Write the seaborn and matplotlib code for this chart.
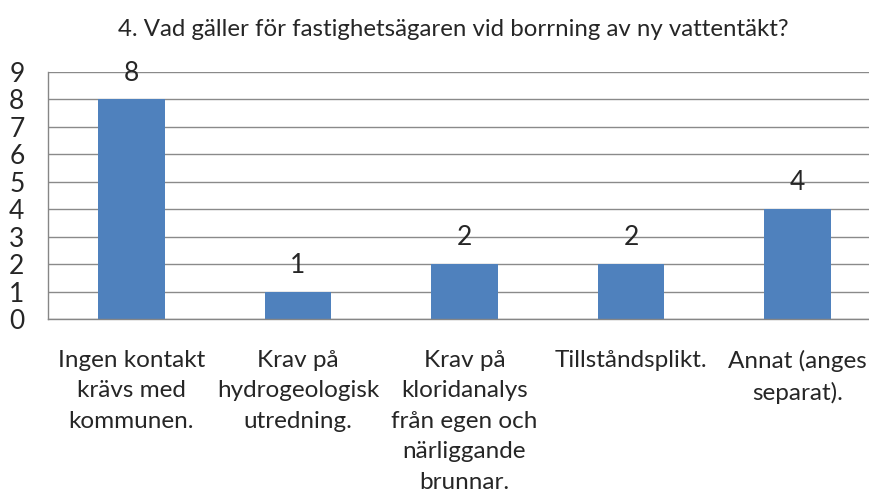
import matplotlib
matplotlib.use("Agg")
import matplotlib.pyplot as plt
import seaborn as sns
import pandas as pd

title = "4. Vad gäller för fastighetsägaren vid borrning av ny vattentäkt?"
categories = [
    "Ingen kontakt\nkrävs med\nkommunen.",
    "Krav på\nhydrogeologisk\nutredning.",
    "Krav på\nkloridanalys\nfrån egen och\nnärliggande\nbrunnar.",
    "Tillståndsplikt.",
    "Annat (anges\nseparat).",
]
values = [8, 1, 2, 2, 4]
yticks = list(range(0, 10))

sns.set_theme(style="white")
plt.rcParams['font.family'] = ['Lato', 'DejaVu Sans']

df = pd.DataFrame({"cat": categories, "val": values})

W, H = 870, 498
fig = plt.figure(figsize=(W / 100, H / 100), dpi=100)
left, right, top, bottom = 48, 881, 72, 319
ax = fig.add_axes([left / W, 1 - bottom / H, (right - left) / W, (bottom - top) / H])

bar_color = "#4F81BD"
sns.barplot(data=df, x="cat", y="val", color=bar_color, width=0.4, ax=ax,
            saturation=1, edgecolor="none")

ax.set_xlim(-0.5, len(categories) - 0.5)
ax.set_ylim(0, 9)
ax.set_yticks(yticks)
ax.set_yticklabels([str(t) for t in yticks], fontsize=19)
ax.set_xticks([i - 0.5 for i in range(len(categories) + 1)], minor=False)
ax.set_xticklabels([])
ax.set_xticks(range(len(categories)), minor=True)
ax.set_xticklabels(categories, minor=True, fontsize=17.5, linespacing=1.56)
ax.tick_params(axis="x", which="major", length=7, width=1, color="#868686", direction="out")
ax.tick_params(axis="x", which="minor", length=0, pad=22)
ax.tick_params(axis="y", length=7, width=1, color="#868686", direction="out", pad=10)
ax.set_xlabel("")
ax.set_ylabel("")

ax.grid(axis="y", color="#8a8a8a", linewidth=1)
ax.set_axisbelow(True)
for s in ["top", "right"]:
    ax.spines[s].set_visible(False)
for s in ["left", "bottom"]:
    ax.spines[s].set_color("#868686")
    ax.spines[s].set_linewidth(1)

for i, v in enumerate(values):
    ax.annotate(str(v), (i, v), xytext=(0, 10), textcoords="offset points",
                ha="center", va="bottom", fontsize=19)

fig.text(453 / W, 1 - 30 / H, title, ha="center", va="center", fontsize=17.3)

fig.savefig("out.png", dpi=100, facecolor="white")
